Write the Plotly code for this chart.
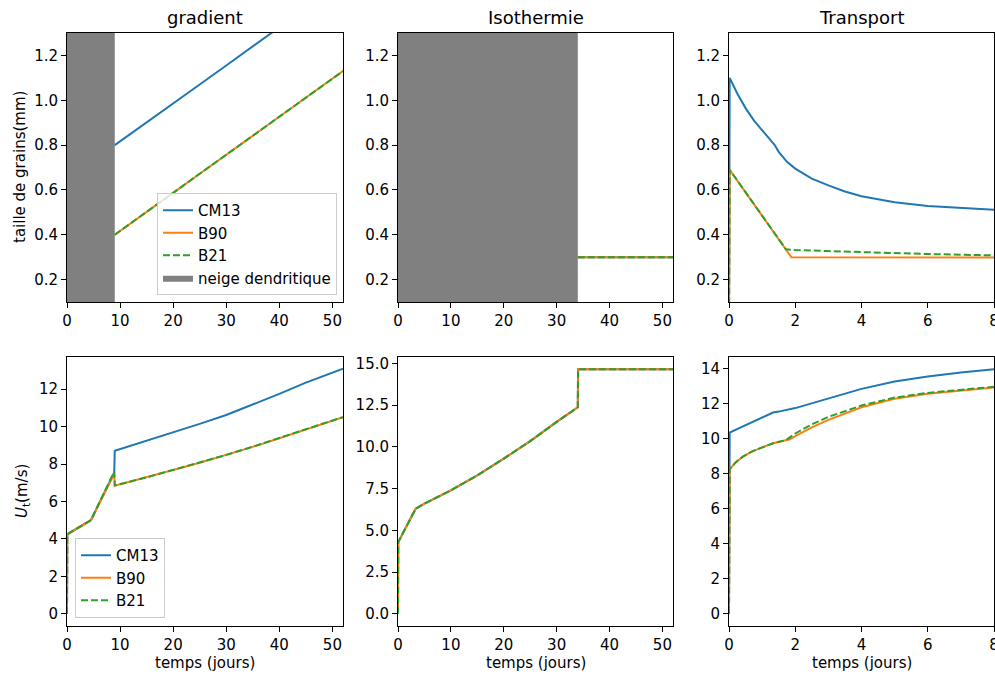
"""Grain size and threshold velocity under three metamorphism regimes."""

import plotly.graph_objects as go
from plotly.subplots import make_subplots

BLUE = "#1f77b4"
ORANGE = "#ff7f0e"
GREEN = "#2ca02c"
FONT = "DejaVu Sans"

panel_titles = ["gradient", "Isothermie", "Transport"]
model_names = ["CM13", "B90", "B21"]
shade_label = "neige dendritique"

# --- gradient: grain size (mm)
t_grad_size = [9, 15, 20, 25, 30, 35, 40, 45, 52]
cm13_grad_size = [0.80, 0.90, 0.985, 1.07, 1.155, 1.24, 1.325, 1.41, 1.53]
b90_grad_size = [0.40, 0.50, 0.587, 0.672, 0.757, 0.842, 0.928, 1.013, 1.13]
b21_grad_size = [0.40, 0.50, 0.587, 0.672, 0.757, 0.842, 0.928, 1.013, 1.13]
grad_dendritic_end = 9

# --- gradient: threshold velocity (m/s)
t_grad_u = [0, 0.05, 4.5, 8.9, 9.0, 10, 15, 20, 25, 30, 35, 40, 45, 52]
cm13_grad_u = [0, 4.25, 5.0, 7.55, 8.71, 8.80, 9.22, 9.70, 10.15, 10.62, 11.17, 11.75, 12.35, 13.10]
b90_grad_u = [0, 4.25, 5.0, 7.48, 6.84, 6.92, 7.28, 7.68, 8.07, 8.48, 8.92, 9.38, 9.85, 10.50]
b21_grad_u = [0, 4.25, 5.0, 7.60, 6.86, 6.93, 7.29, 7.69, 8.08, 8.49, 8.93, 9.39, 9.86, 10.51]

# --- isothermie: grain size (mm)
t_iso_size = [34, 52]
cm13_iso_size = [0.30, 0.30]
b90_iso_size = [0.30, 0.30]
b21_iso_size = [0.30, 0.30]
iso_dendritic_end = 34

# --- isothermie: threshold velocity (m/s)
t_iso_u = [0, 0.05, 3.34, 5, 10, 15, 20, 25, 30, 34, 34.05, 52]
cm13_iso_u = [0, 4.3, 6.3, 6.6, 7.4, 8.3, 9.3, 10.35, 11.5, 12.38, 14.66, 14.66]
b90_iso_u = [0, 4.3, 6.3, 6.6, 7.4, 8.3, 9.3, 10.35, 11.5, 12.38, 14.66, 14.66]
b21_iso_u = [0, 4.3, 6.3, 6.6, 7.4, 8.3, 9.3, 10.35, 11.5, 12.38, 14.66, 14.66]

# --- transport: grain size (mm)
t_tr_cm13_size = [0, 0.02, 0.25, 0.5, 0.75, 1.0, 1.2, 1.38, 1.5, 1.75, 2.0, 2.5, 3, 3.5, 4, 5, 6, 7, 8]
cm13_tr_size = [0, 1.10, 1.03, 0.965, 0.91, 0.865, 0.83, 0.80, 0.77, 0.725, 0.695, 0.65, 0.62,
                0.593, 0.572, 0.545, 0.528, 0.518, 0.511]
t_tr_b90_size = [0, 0.02, 1.88, 8]
b90_tr_size = [0, 0.69, 0.30, 0.298]
t_tr_b21_size = [0, 0.02, 1.72, 2, 3, 4, 5, 6, 7, 8]
b21_tr_size = [0, 0.69, 0.335, 0.332, 0.327, 0.322, 0.318, 0.314, 0.311, 0.308]

# --- transport: threshold velocity (m/s)
t_tr_cm13_u = [0, 0.02, 1.33, 1.5, 2, 3, 4, 5, 6, 7, 8]
cm13_tr_u = [0, 10.35, 11.5, 11.55, 11.75, 12.3, 12.85, 13.27, 13.55, 13.78, 13.97]
t_tr_b90_u = [0, 0.02, 0.2, 0.42, 0.7, 0.93, 1.33, 1.84, 2, 2.5, 3, 4, 5, 6, 7, 8]
b90_tr_u = [0, 8.25, 8.65, 8.98, 9.28, 9.45, 9.74, 9.97, 10.15, 10.65, 11.08, 11.8, 12.28,
            12.57, 12.76, 12.93]
t_tr_b21_u = [0, 0.02, 0.2, 0.42, 0.7, 0.93, 1.33, 1.72, 2, 2.5, 3, 4, 5, 6, 7, 8]
b21_tr_u = [0, 8.25, 8.65, 8.98, 9.28, 9.45, 9.74, 9.92, 10.3, 10.82, 11.25, 11.9, 12.35,
            12.62, 12.8, 12.97]

size_range = [0.1, 1.3]
x_ranges = [[0, 52], [0, 52], [0, 8]]
u_ranges = [[-0.65, 13.72], [-0.73, 15.39], [-0.70, 14.67]]
x_dticks = [10, 10, 2]
u_dticks = [2, 2.5, 2]

fig = make_subplots(rows=2, cols=3)


def add_models(row, col, series, legend=None):
    """Add the three model curves to one panel."""
    styles = [
        dict(color=BLUE, width=2),
        dict(color=ORANGE, width=2),
        dict(color=GREEN, width=2, dash="7px,3px"),
    ]
    for name, (x, y), line in zip(model_names, series, styles):
        fig.add_trace(
            go.Scatter(
                x=x, y=y, mode="lines", name=name, line=line,
                showlegend=legend is not None, legend=legend or "legend",
            ),
            row=row, col=col,
        )


def add_shade(col, x_end, legend=None):
    """Grey band marking the dendritic snow period."""
    fig.add_trace(
        go.Scatter(
            x=[0, x_end, x_end, 0, 0],
            y=[size_range[0], size_range[0], size_range[1], size_range[1], size_range[0]],
            mode="lines", fill="toself", fillcolor="#808080",
            line=dict(color="#808080", width=0),
            name=shade_label, showlegend=legend is not None,
            legend=legend or "legend", legendrank=2000,
        ),
        row=1, col=col,
    )


add_shade(1, grad_dendritic_end, legend="legend")
add_models(1, 1, [(t_grad_size, cm13_grad_size), (t_grad_size, b90_grad_size),
                  (t_grad_size, b21_grad_size)], legend="legend")
add_shade(2, iso_dendritic_end)
add_models(1, 2, [(t_iso_size, cm13_iso_size), (t_iso_size, b90_iso_size),
                  (t_iso_size, b21_iso_size)])
add_models(1, 3, [(t_tr_cm13_size, cm13_tr_size), (t_tr_b90_size, b90_tr_size),
                  (t_tr_b21_size, b21_tr_size)])
add_models(2, 1, [(t_grad_u, cm13_grad_u), (t_grad_u, b90_grad_u),
                  (t_grad_u, b21_grad_u)], legend="legend2")
add_models(2, 2, [(t_iso_u, cm13_iso_u), (t_iso_u, b90_iso_u), (t_iso_u, b21_iso_u)])
add_models(2, 3, [(t_tr_cm13_u, cm13_tr_u), (t_tr_b90_u, b90_tr_u), (t_tr_b21_u, b21_tr_u)])

W, H = 995, 675


def px_x(v):
    return v / W


def px_y(v):
    return 1 - v / H


x_px = [(67, 343), (398, 673), (729, 994)]
y_px = [(33, 302), (357, 626)]

axis_style = dict(
    showline=True, mirror=True, linecolor="black", linewidth=1,
    ticks="outside", ticklen=5, tickwidth=1, tickcolor="black",
    showgrid=False, zeroline=False, automargin=False, ticklabeloverflow="allow",
    tickfont=dict(family=FONT, size=15, color="black"),
)

for r in range(2):
    for c in range(3):
        x0, x1 = x_px[c]
        y0, y1 = y_px[r]
        fig.update_xaxes(
            domain=[px_x(x0), px_x(x1)], range=x_ranges[c], dtick=x_dticks[c], tick0=0,
            row=r + 1, col=c + 1, **axis_style,
        )
        if r == 0:
            fig.update_yaxes(
                domain=[px_y(y1), px_y(y0)], range=size_range, dtick=0.2, tick0=0,
                tickformat=".1f", row=1, col=c + 1, **axis_style,
            )
        else:
            fig.update_yaxes(
                domain=[px_y(y1), px_y(y0)], range=u_ranges[c], dtick=u_dticks[c],
                tick0=0, tickformat=".1f" if c == 1 else "d", row=2, col=c + 1, **axis_style,
            )


def label(text, x, y, size=15, angle=0):
    return dict(
        text=text, x=px_x(x), y=px_y(y), textangle=angle,
        xref="paper", yref="paper", xanchor="center", yanchor="middle", showarrow=False,
        font=dict(family=FONT, size=size, color="black"),
    )


annotations = []
for c, title in enumerate(panel_titles):
    mid = (x_px[c][0] + x_px[c][1]) / 2
    annotations.append(label(title, mid, 17, size=18))
    annotations.append(label("temps (jours)", mid, 663))
annotations.append(label("taille de grains(mm)", 20, 167, angle=-90))
annotations.append(label("<i>U</i><sub>t</sub>(m/s)", 22, 491, angle=-90))

legend_style = dict(
    bgcolor="rgba(255,255,255,0.8)", bordercolor="#cccccc", borderwidth=1,
    font=dict(family=FONT, size=15, color="black"),
)

fig.update_layout(
    width=W, height=H,
    margin=dict(l=0, r=0, t=0, b=0),
    paper_bgcolor="white", plot_bgcolor="white",
    font=dict(family=FONT, size=15, color="black"),
    annotations=annotations,
    legend=dict(x=px_x(337), y=px_y(295), xanchor="right", yanchor="bottom", **legend_style),
    legend2=dict(x=px_x(75), y=px_y(618), xanchor="left", yanchor="bottom", **legend_style),
)

# drop the browser's default page margin so the figure fills the window
fig.write_html(
    "out.html",
    config={"displayModeBar": False},
    post_script="document.body.style.margin='0';document.body.style.overflow='hidden';",
)
